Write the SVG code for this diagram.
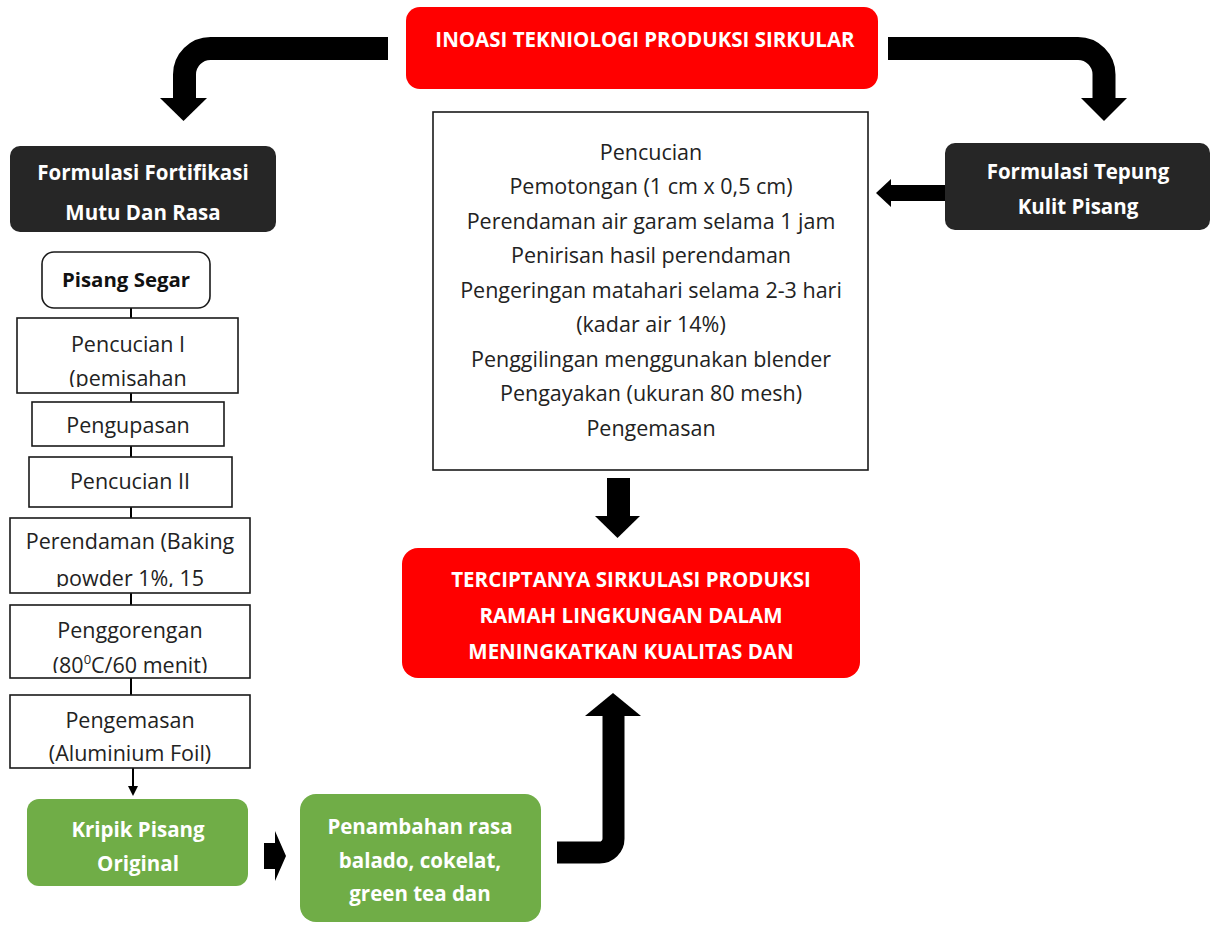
<svg xmlns="http://www.w3.org/2000/svg" width="1211" height="925" viewBox="0 0 1211 925">
<style>
.red{fill:#FF0000}
.dark{fill:#262626}
.green{fill:#70AD47}
.box{fill:#fff;stroke:#1a1a1a;stroke-width:1.6}
.t{font-family:"Open Sans","Liberation Sans",sans-serif;font-size:21.5px;fill:#222;text-anchor:middle}
.b{font-family:"Open Sans","Liberation Sans",sans-serif;font-weight:bold;font-size:20.5px;fill:#fff;text-anchor:middle}
.bk{font-family:"Open Sans","Liberation Sans",sans-serif;font-weight:bold;font-size:20.4px;fill:#111;text-anchor:middle}
.thick{fill:none;stroke:#000}
.thin{stroke:#000;stroke-width:2}
</style>
<defs>
<clipPath id="c1"><rect x="17" y="318" width="221" height="69"/></clipPath>
<clipPath id="c2"><rect x="10" y="518" width="240" height="69"/></clipPath>
<clipPath id="c3"><rect x="10" y="605" width="240" height="68"/></clipPath>
</defs>

<g id="connectors">
<path class="thick" stroke-width="23" d="M388,48.5 H210.5 A26,26 0 0 0 184.5,74.5 V99"/>
<polygon points="160,98 207,98 183.5,121"/>
<path class="thick" stroke-width="23" d="M888,48.5 H1078 A26,26 0 0 1 1104,74.5 V99"/>
<polygon points="1081,98 1127,98 1104,121"/>
<rect x="889" y="185" width="57" height="16"/>
<polygon points="891,179 891,207 876,193"/>
<rect x="607" y="478" width="23" height="40"/>
<polygon points="595,516 640,516 617.5,538"/>
<path class="thick" stroke-width="22" d="M557,852.5 H599 A14,14 0 0 0 613.5,838 V713"/>
<polygon points="585,716 641,716 613,693"/>
<line class="thin" x1="131" y1="308" x2="131" y2="318"/>
<line class="thin" x1="131" y1="393" x2="131" y2="402"/>
<line class="thin" x1="131" y1="446" x2="131" y2="457"/>
<line class="thin" x1="131" y1="507" x2="131" y2="518"/>
<line class="thin" x1="131" y1="593" x2="131" y2="605"/>
<line class="thin" x1="131" y1="678" x2="131" y2="695"/>
<line class="thin" x1="133" y1="768" x2="133" y2="788"/>
<polygon points="128,786 138,786 133,796"/>
<polygon points="264,843 275,843 275,831 286,856 275,881 275,869 264,869"/>
</g>

<g id="top">
<rect class="red" x="406" y="7" width="472" height="82" rx="14"/>
<text class="b" x="645" y="47">INOASI TEKNIOLOGI PRODUKSI SIRKULAR</text>
</g>

<g id="left-head">
<rect class="dark" x="10" y="146" width="266" height="86" rx="10"/>
<text class="b" x="143" y="180">Formulasi Fortifikasi</text>
<text class="b" x="143" y="220">Mutu Dan Rasa</text>
</g>

<g id="right-head">
<rect class="dark" x="945" y="143" width="265" height="87" rx="10"/>
<text class="b" x="1078" y="179">Formulasi Tepung</text>
<text class="b" x="1078" y="214">Kulit Pisang</text>
</g>

<g id="center">
<rect class="box" x="433" y="112" width="435" height="358" stroke-width="2"/>
<text class="t" x="651" y="160">Pencucian</text>
<text class="t" x="651" y="194">Pemotongan (1 cm x 0,5 cm)</text>
<text class="t" x="651" y="229">Perendaman air garam selama 1 jam</text>
<text class="t" x="651" y="263">Penirisan hasil perendaman</text>
<text class="t" x="651" y="298">Pengeringan matahari selama 2-3 hari</text>
<text class="t" x="651" y="332">(kadar air 14%)</text>
<text class="t" x="651" y="367">Penggilingan menggunakan blender</text>
<text class="t" x="651" y="401">Pengayakan (ukuran 80 mesh)</text>
<text class="t" x="651" y="436">Pengemasan</text>
</g>

<g id="result">
<rect class="red" x="402" y="548" width="458" height="130" rx="16"/>
<text class="b" x="631" y="587">TERCIPTANYA SIRKULASI PRODUKSI</text>
<text class="b" x="631" y="623">RAMAH LINGKUNGAN DALAM</text>
<text class="b" x="631" y="659">MENINGKATKAN KUALITAS DAN</text>
</g>

<g id="pisang-segar">
<rect class="box" x="42" y="252" width="168" height="56" rx="12"/>
<text class="bk" x="126" y="287">Pisang Segar</text>
</g>

<g id="pencucian1">
<rect class="box" x="17" y="318" width="221" height="75"/>
<g clip-path="url(#c1)">
<text class="t" x="128" y="352">Pencucian I</text>
<text class="t" x="128" y="386">(pemisahan</text>
</g>
</g>

<g id="pengupasan">
<rect class="box" x="32" y="402" width="192" height="44"/>
<text class="t" x="128" y="433">Pengupasan</text>
</g>

<g id="pencucian2">
<rect class="box" x="29" y="457" width="203" height="50"/>
<text class="t" x="130" y="489">Pencucian II</text>
</g>

<g id="perendaman">
<rect class="box" x="10" y="518" width="240" height="75"/>
<g clip-path="url(#c2)">
<text class="t" x="130" y="549">Perendaman (Baking</text>
<text class="t" x="130" y="586">powder 1%, 15</text>
</g>
</g>

<g id="penggorengan">
<rect class="box" x="10" y="605" width="240" height="73"/>
<g clip-path="url(#c3)">
<text class="t" x="130" y="638">Penggorengan</text>
<text class="t" x="130" y="673">(80<tspan font-size="13" dy="-9">0</tspan><tspan dy="9">C/60 menit)</tspan></text>
</g>
</g>

<g id="pengemasan">
<rect class="box" x="10" y="695" width="240" height="73"/>
<text class="t" x="130" y="728">Pengemasan</text>
<text class="t" x="130" y="761">(Aluminium Foil)</text>
</g>

<g id="kripik">
<rect class="green" x="27" y="799" width="221" height="87" rx="12"/>
<text class="b" x="138" y="837">Kripik Pisang</text>
<text class="b" x="138" y="871">Original</text>
</g>

<g id="penambahan">
<rect class="green" x="300" y="794" width="241" height="128" rx="16"/>
<text class="b" x="420" y="834">Penambahan rasa</text>
<text class="b" x="420" y="868">balado, cokelat,</text>
<text class="b" x="420" y="901">green tea dan</text>
</g>
</svg>
